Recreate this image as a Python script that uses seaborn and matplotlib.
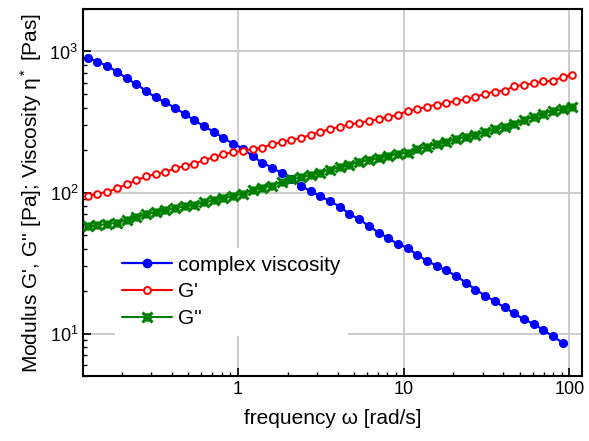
import matplotlib
matplotlib.use("Agg")
import matplotlib.pyplot as plt
import numpy as np
import pandas as pd
import seaborn as sns
from matplotlib.ticker import FixedLocator, LogLocator, NullFormatter, FixedFormatter
from matplotlib.lines import Line2D
from matplotlib.legend_handler import HandlerTuple

# ---------------- data ----------------
freq = [0.125, 0.143, 0.1636, 0.1872, 0.2141, 0.2449, 0.2802, 0.3205, 0.3667, 0.4195,
        0.4799, 0.549, 0.628, 0.7184, 0.8218, 0.9401, 1.0755, 1.230, 1.407, 1.610,
        1.841, 2.106, 2.410, 2.757, 3.154, 3.608, 4.127, 4.722, 5.401, 6.179,
        7.069, 8.087, 9.251, 10.58, 12.11, 13.85, 15.84, 18.12, 20.74, 23.71,
        27.13, 31.04, 35.50, 40.62, 46.45, 53.15, 60.80, 69.55, 79.56, 91.0,
        104.1]

eta_complex = [900, 845, 790, 720, 645, 588, 525, 472, 435, 398,
               360, 326, 294, 270, 243, 222, 205, 181, 163, 150,
               138, 125, 112, 102, 94, 86.5, 79.5, 70.5, 64.5, 58,
               52, 47.5, 43, 40.5, 36, 32.8, 30.2, 28.0, 25.6, 23.0,
               20.5, 18.6, 16.9, 15.3, 13.9, 12.6, 11.7, 10.6, 9.55, 8.6]

g_storage = [95, 98, 101, 107, 114, 122, 130, 135, 140, 148,
             154, 160, 170, 178, 187, 193, 198, 203, 208, 220,
             227, 236, 243, 257, 268, 283, 292, 304, 312, 322,
             331, 342, 357, 378, 391, 405, 420, 432, 446, 458,
             476, 500, 520, 528, 566, 581, 593, 615, 620, 658,
             686]

g_loss = [57.5, 58.5, 59.8, 61, 63.4, 66.5, 70, 72.3, 74.6, 77.6,
          79.7, 82, 85, 88, 91, 94.8, 98, 104, 108.5, 111.5,
          119, 124, 128, 133, 138.5, 144.5, 151, 157, 165, 170,
          175.5, 182, 188, 192, 202, 211, 221, 229, 238, 249,
          255, 269, 280, 292, 305, 326, 344, 363, 379, 388,
          405]

series_labels = ["complex viscosity", "G'", "G''"]
x_ticks = [1, 10, 100]
x_ticklabels = ["1", "10", "100"]

# ---------------- style ----------------
sns.set_theme(style="ticks")
plt.rcParams['font.family'] = ['Liberation Sans', 'DejaVu Sans']
plt.rcParams['mathtext.fontset'] = 'custom'
plt.rcParams['mathtext.rm'] = 'Liberation Sans'
plt.rcParams['mathtext.it'] = 'Liberation Sans:italic'
plt.rcParams['mathtext.bf'] = 'Liberation Sans:bold'

fig = plt.figure(figsize=(5.89, 4.41), dpi=100)
ax = fig.add_axes([83 / 589, 1 - 376 / 441, (582 - 83) / 589, (376 - 9) / 441])
ax.set_xscale('log')
ax.set_yscale('log')

df_eta = pd.DataFrame({'freq': freq[:len(eta_complex)], 'val': eta_complex})
df_g1 = pd.DataFrame({'freq': freq, 'val': g_storage})
df_g2 = pd.DataFrame({'freq': freq, 'val': g_loss})

sns.lineplot(data=df_eta, x='freq', y='val', ax=ax, color='#0000ff', lw=1.6,
             marker='o', markersize=5.8, markeredgecolor='#0000ff',
             markerfacecolor='#0000ff', zorder=4)
sns.lineplot(data=df_g1, x='freq', y='val', ax=ax, color='#ff0000', lw=1.5,
             marker='o', markersize=4.8, markeredgecolor='#ff0000',
             markerfacecolor='white', markeredgewidth=1.4, zorder=4)
sns.lineplot(data=df_g2, x='freq', y='val', ax=ax, color='#008000', lw=1.5,
             marker='o', markersize=4.8, markeredgecolor='#008000',
             markerfacecolor='none', markeredgewidth=1.2, zorder=4)
sns.lineplot(data=df_g2, x='freq', y='val', ax=ax, color='#008000', lw=0,
             marker='x', markersize=6.5, markeredgecolor='#008000',
             markeredgewidth=2.2, zorder=5)

ax.set_xlim(0.117, 119)
ax.set_ylim(5, 2000)

ax.xaxis.set_major_locator(FixedLocator(x_ticks))
ax.xaxis.set_major_formatter(FixedFormatter(x_ticklabels))
ax.xaxis.set_minor_locator(LogLocator(base=10, subs=np.arange(2, 10)))
ax.xaxis.set_minor_formatter(NullFormatter())
ax.yaxis.set_major_locator(LogLocator(base=10, numticks=10))
ax.yaxis.set_minor_locator(LogLocator(base=10, subs=np.arange(2, 10), numticks=20))
ax.yaxis.set_minor_formatter(NullFormatter())

ax.tick_params(which='both', direction='in', top=False, right=False,
               colors='black', labelsize=13)
ax.tick_params(which='major', length=6, width=1.2)
ax.tick_params(which='minor', length=3, width=1.0)

ax.grid(True, which='major', color='#c8c8c8', lw=1.3)
ax.set_axisbelow(True)
for s in ax.spines.values():
    s.set_visible(True)
    s.set_color('black')
    s.set_linewidth(1.5)

ax.set_xlabel("frequency ω [rad/s]", fontsize=15, color='black', labelpad=8)
ax.set_ylabel("Modulus G', G'' [Pa]; Viscosity η$^*$ [Pas]", fontsize=15,
              color='black', labelpad=4)

h_eta = Line2D([], [], color='#0000ff', lw=1.6, marker='o', markersize=6,
               markerfacecolor='#0000ff', markeredgecolor='#0000ff')
h_g1 = Line2D([], [], color='#ff0000', lw=1.5, marker='o', markersize=5,
              markerfacecolor='white', markeredgecolor='#ff0000', markeredgewidth=1.4)
h_g2a = Line2D([], [], color='#008000', lw=1.5, marker='o', markersize=5,
               markerfacecolor='none', markeredgecolor='#008000', markeredgewidth=1.2)
h_g2b = Line2D([], [], color='#008000', lw=0, marker='x', markersize=6.5,
               markeredgecolor='#008000', markeredgewidth=2.2)
leg = ax.legend([h_eta, h_g1, (h_g2a, h_g2b)], series_labels,
                handler_map={tuple: HandlerTuple(ndivide=1, pad=0)},
                loc='upper left', bbox_to_anchor=(0.064, 0.348), borderaxespad=0,
                fontsize=15, frameon=True, facecolor='white', edgecolor='none',
                framealpha=1, fancybox=False, handlelength=2.4, handletextpad=0.3,
                labelspacing=0.38, borderpad=0.35, labelcolor='black')
leg.set_zorder(10)

fig.savefig("out.png", dpi=100)
